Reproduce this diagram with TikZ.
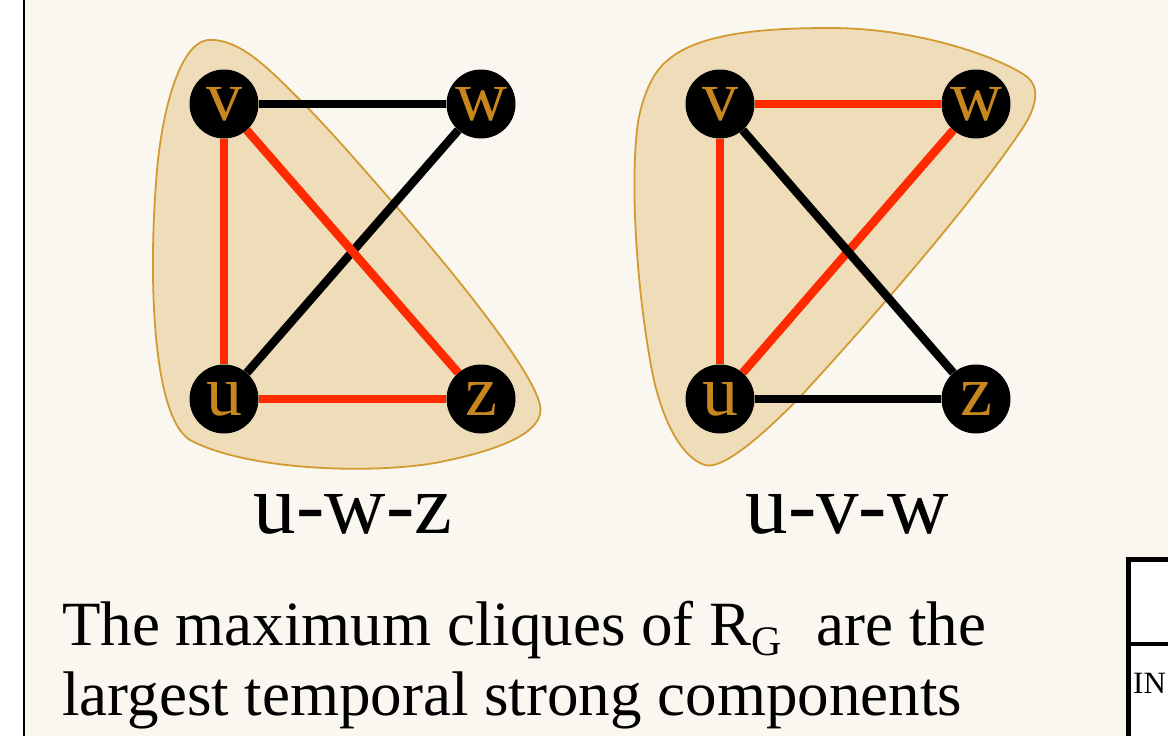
\documentclass[tikz,border=0pt]{standalone}
\usepackage{fontspec}
\setmainfont{Liberation Serif}[Ligatures=TeX]
\newfontfamily\timesfont{Liberation Serif}
\usetikzlibrary{positioning}
\definecolor{paper}{HTML}{FAF6F0}
\definecolor{blobfill}{HTML}{EFDDB9}
\definecolor{blobline}{HTML}{D29B32}
\definecolor{labelgold}{HTML}{C8871E}
\definecolor{edgered}{HTML}{FF2A00}
\pgfdeclarelayer{back}
\pgfdeclarelayer{edges}
\pgfsetlayers{back,edges,main}

\begin{document}
\begin{tikzpicture}[x=1pt, y=-1pt,
    vert/.style={circle, fill=black, minimum size=69pt, inner sep=0pt,
        text=labelgold, font=\timesfont\fontsize{72}{72}\selectfont},
    redge/.style={line width=8.5pt, edgered},
    bedge/.style={line width=8.5pt, black},
    blob/.style={fill=blobfill, draw=blobline, line width=1.8pt},
    caption/.style={anchor=base, font=\timesfont\fontsize{85}{85}\selectfont},
    notetext/.style={anchor=base west, inner sep=0pt, font=\timesfont\fontsize{63}{70}\selectfont}]

    \useasboundingbox (0,0) rectangle (1168,736);

    % --- PAGE ---
    \begin{pgfonlayer}{back}
    \fill[white] (0,0) rectangle (24,736);
    \fill[paper] (24,0) rectangle (1168,736);
    \draw[line width=2.7pt] (24,0) -- (24,736);

    % clique u-v-z (left)
    \draw[blob] (208,40) .. controls (240,38) and (270,70) .. (300,100)
        .. controls (330,130) and (360,165) .. (395,205)
        .. controls (460,280) and (532,370) .. (540,405)
        .. controls (546,432) and (500,450) .. (440,462)
        .. controls (380,474) and (250,472) .. (190,440)
        .. controls (150,415) and (148,260) .. (158,160)
        .. controls (166,90) and (185,42) .. (208,40) -- cycle;

    % clique u-v-w (right)
    \draw[blob] (668,60) .. controls (700,32) and (770,28) .. (830,28)
        .. controls (920,28) and (1000,58) .. (1026,76)
        .. controls (1042,88) and (1036,110) .. (1018,135)
        .. controls (970,205) and (880,310) .. (800,397)
        .. controls (760,438) and (722,470) .. (705,465)
        .. controls (682,458) and (660,420) .. (650,360)
        .. controls (636,280) and (630,180) .. (638,122)
        .. controls (644,90) and (655,70) .. (668,60) -- cycle;

    % table corner
    \draw[line width=4.5pt, fill=white] (1128.5,559.5) rectangle (1200,760);
    \draw[line width=3.5pt] (1128.5,644) -- (1200,644);
    \end{pgfonlayer}

    % --- LEFT GRAPH ---
    \node[vert] (lv) at (224,104) {v};
    \node[vert] (lw) at (481,104) {w};
    \node[vert] (lu) at (224,399) {u};
    \node[vert] (lz) at (481,399) {z};

    % --- RIGHT GRAPH ---
    \node[vert] (rv) at (720,104) {v};
    \node[vert] (rw) at (976,104) {w};
    \node[vert] (ru) at (720,399) {u};
    \node[vert] (rz) at (976,399) {z};

    \begin{pgfonlayer}{edges}
    \draw[bedge] (lv) -- (lw);
    \draw[bedge] (lu) -- (lw);
    \draw[redge] (lv) -- (lu);
    \draw[redge] (lv) -- (lz);
    \draw[redge] (lu) -- (lz);

    \draw[redge] (rv) -- (rw);
    \draw[redge] (rv) -- (ru);
    \draw[redge] (ru) -- (rw);
    \draw[bedge] (rv) -- (rz);
    \draw[bedge] (ru) -- (rz);
    \end{pgfonlayer}

    % --- CAPTIONS ---
    \node[caption] (lcap) at (353,533) {u-w-z};
    \node[caption] (rcap) at (847,533) {u-v-w};

    \node[notetext] (note1) at (62,645)
        {The maximum cliques of R\raisebox{-10pt}{\fontsize{42}{42}\selectfont G}\hspace{0.3em} are the};
    \node[notetext] (note2) at (62,715) {largest temporal strong components};

    \node[anchor=base west, inner sep=0pt, font=\timesfont\fontsize{31}{31}\selectfont] (tabin) at (1133,693) {IN};

\end{tikzpicture}
\end{document}
